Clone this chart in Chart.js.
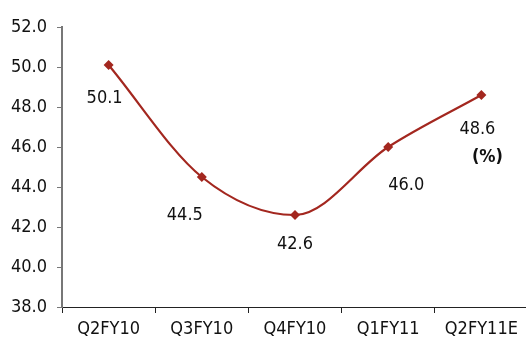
<!DOCTYPE html>
<html lang="en">
<head>
  <meta charset="UTF-8" />
  <title>Quarterly ratio</title>
  <script src="https://cdn.jsdelivr.net/npm/chart.js"></script>
  <style>
    html, body { margin: 0; padding: 0; background: #fff; overflow: hidden; }
    .chart-container { width: 533px; height: 347px; position: relative; }
  </style>
</head>
<body>
  <div class="chart-container">
    <canvas id="ratioChart"></canvas>
  </div>

  <script>
    const quarters = ['Q2FY10', 'Q3FY10', 'Q4FY10', 'Q1FY11', 'Q2FY11E'];
    const ratio = [50.1, 44.5, 42.6, 46.0, 48.6];
    const yTicks = [38, 40, 42, 44, 46, 48, 50, 52];

    const FONT = "'Liberation Sans Narrow', 'DejaVu Sans Condensed', sans-serif";
    const RED = '#a3271f';

    // where each value label sits relative to its point (dx, dy)
    const labelShift = [[-4, 33], [-17, 38], [0, 29], [18, 38], [-4, 34]];

    const valueLabels = {
      id: 'valueLabels',
      afterDatasetsDraw(chart) {
        const ctx = chart.ctx;
        const pts = chart.getDatasetMeta(0).data;
        ctx.save();
        ctx.font = '18px ' + FONT;
        ctx.fillStyle = '#111';
        ctx.textAlign = 'center';
        ctx.textBaseline = 'middle';
        pts.forEach((p, i) => {
          const [dx, dy] = labelShift[i];
          ctx.fillText(ratio[i].toFixed(1), p.x + dx, p.y + dy);
        });
        // unit note under the last label
        const last = pts[pts.length - 1];
        ctx.font = 'bold 18px ' + FONT;
        ctx.fillText('(%)', last.x + 6, last.y + 62);
        ctx.restore();
      }
    };

    new Chart(document.getElementById('ratioChart'), {
      type: 'line',
      data: {
        labels: quarters,
        datasets: [{
          data: ratio,
          borderColor: RED,
          backgroundColor: RED,
          borderWidth: 2.2,
          cubicInterpolationMode: 'monotone',
          pointStyle: 'rectRot',
          pointRadius: 5,
          pointBorderWidth: 0,
          clip: false
        }]
      },
      options: {
        responsive: true,
        maintainAspectRatio: false,
        animation: false,
        layout: { padding: { top: 27, right: 0, left: 0, bottom: 0 } },
        plugins: {
          legend: { display: false },
          tooltip: { enabled: false }
        },
        scales: {
          x: {
            offset: true,
            afterFit: s => { s.height = 40; },
            grid: {
              offset: true,
              drawOnChartArea: false,
              tickLength: 6,
              color: '#222'
            },
            border: { color: '#222', width: 1 },
            ticks: {
              color: '#111',
              font: { family: FONT, size: 18 },
              padding: 6,
              maxRotation: 0
            }
          },
          y: {
            min: 38,
            max: 52,
            afterFit: s => { s.width = 62; },
            afterBuildTicks: s => { s.ticks = yTicks.map(v => ({ value: v })); },
            grid: {
              drawOnChartArea: false,
              tickLength: 5,
              color: '#777'
            },
            border: { color: '#777', width: 2 },
            ticks: {
              color: '#111',
              font: { family: FONT, size: 18 },
              padding: 10,
              callback: v => Number(v).toFixed(1)
            }
          }
        }
      },
      plugins: [valueLabels]
    });
  </script>
</body>
</html>
